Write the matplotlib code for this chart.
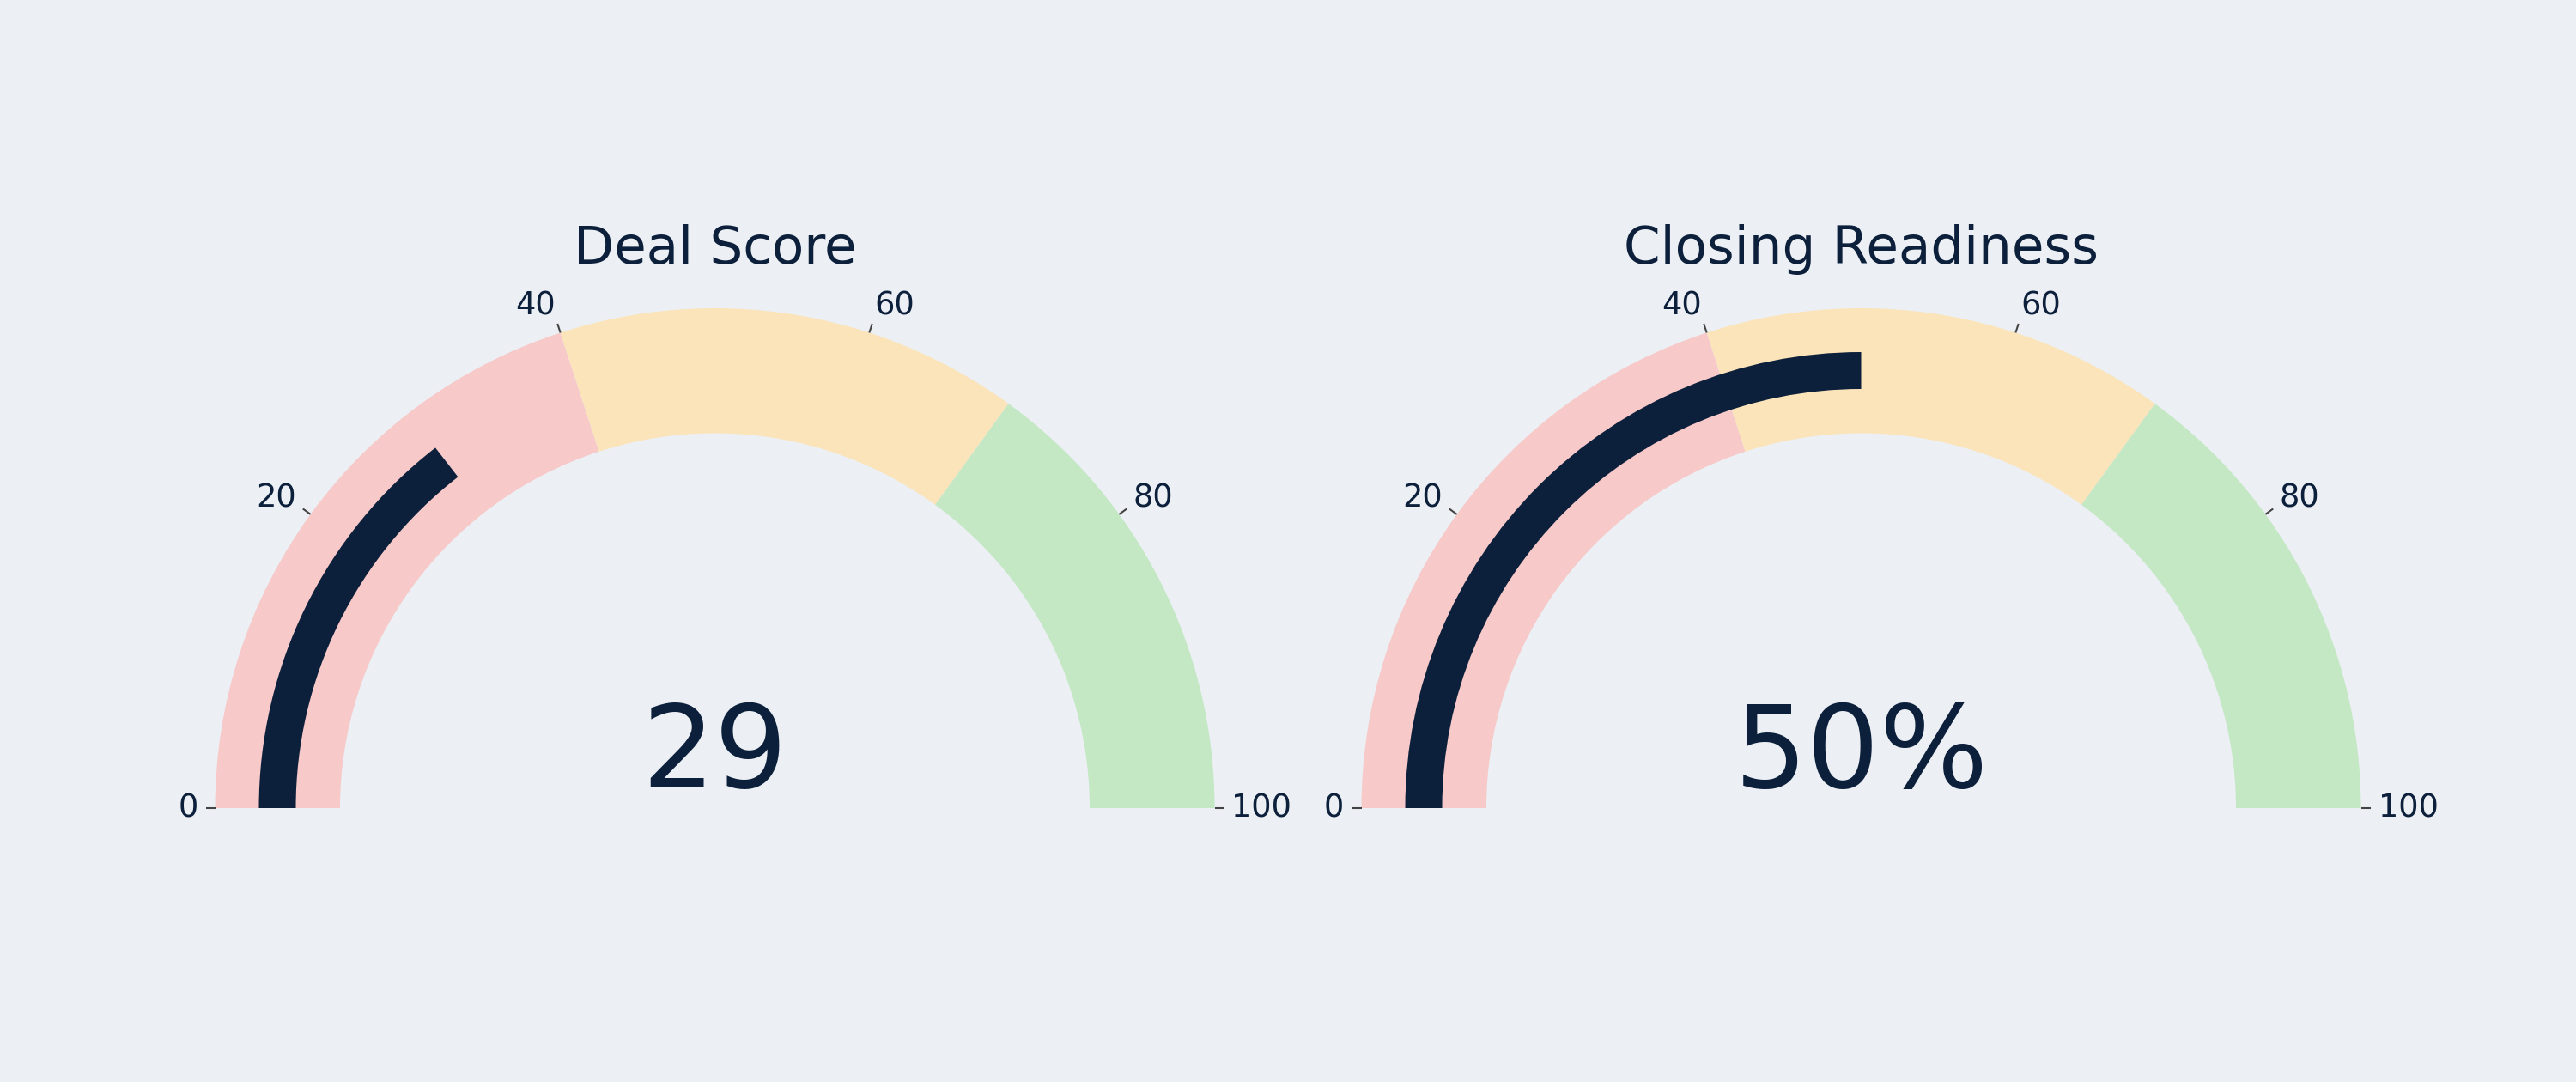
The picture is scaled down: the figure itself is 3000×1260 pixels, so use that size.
import numpy as np
import matplotlib.pyplot as plt
from matplotlib.patches import Wedge

# gauge data
titles = ['Deal Score', 'Closing Readiness']
values = [29, 50]
suffixes = ['', '%']
step_bounds = [0, 40, 70, 100]
step_colors = ['#F7C9C9', '#FBE4BA', '#C4E7C4']
ticks = [0, 20, 40, 60, 80, 100]

bg = '#ECF0F4'
navy = '#0C1F3B'

fig = plt.figure(figsize=(30, 12.6), dpi=100, facecolor=bg)
ax = fig.add_axes([0, 0, 1, 1])
ax.set_xlim(0, 3000)
ax.set_ylim(0, 1260)
ax.set_facecolor(bg)
ax.axis('off')

centers_x = [832.5, 2167.5]
cy = 319
r_out = 582
r_in = 436.5
bar_out = 531
bar_in = 488


def ang(v):
    # value 0..100 -> degrees, 180 on the left, 0 on the right
    return 180 - v * 1.8


for cx, title, val, suf in zip(centers_x, titles, values, suffixes):
    # coloured steps
    for i, col in enumerate(step_colors):
        w = Wedge((cx, cy), r_out, ang(step_bounds[i + 1]), ang(step_bounds[i]),
                  width=r_out - r_in, facecolor=col, edgecolor='none')
        ax.add_patch(w)

    # value bar
    bar = Wedge((cx, cy), bar_out, ang(val), 180, width=bar_out - bar_in,
                facecolor=navy, edgecolor='none')
    ax.add_patch(bar)

    # ticks and labels
    for t in ticks:
        th = np.radians(ang(t))
        c, s = np.cos(th), np.sin(th)
        x0, y0 = cx + r_out * c, cy + r_out * s
        x1, y1 = cx + (r_out + 11) * c, cy + (r_out + 11) * s
        ax.plot([x0, x1], [y0, y1], color='#444444', lw=1.5, solid_capstyle='butt')
        if c < -0.01:
            ha = 'right'
        elif c > 0.01:
            ha = 'left'
        else:
            ha = 'center'
        ax.text(x1 + 9 * c, y1 + 22 * s, str(t), ha=ha, va='center',
                fontsize=26.5, color=navy)

    ax.text(cx, 953, title, ha='center', va='baseline', fontsize=44, color=navy)
    ax.text(cx, 343, f'{val}{suf}', ha='center', va='baseline', fontsize=96, color=navy)

fig.savefig('out.png', dpi=100, facecolor=bg)
